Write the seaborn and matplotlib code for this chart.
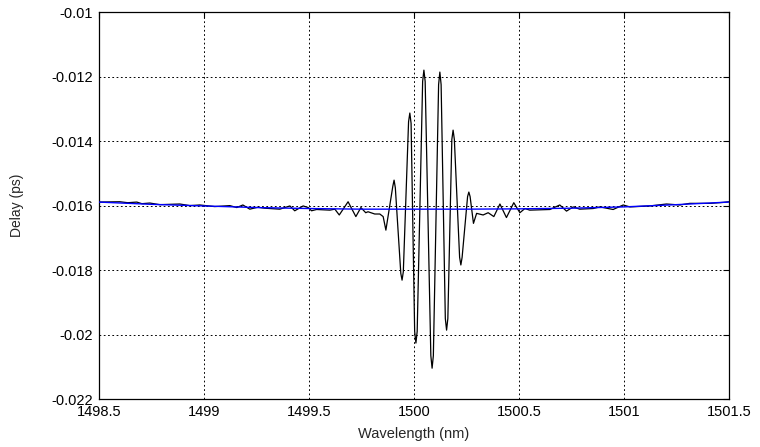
import matplotlib
matplotlib.use('Agg')
import matplotlib.pyplot as plt
import seaborn as sns
import pandas as pd

wl_meas = [1498.500, 1498.600, 1498.638, 1498.681, 1498.705, 1498.743, 1498.790,
           1498.886, 1498.933, 1498.981, 1499.052, 1499.124, 1499.157, 1499.186,
           1499.219, 1499.257, 1499.290, 1499.362, 1499.410, 1499.433, 1499.473,
           1499.497, 1499.513, 1499.537, 1499.600, 1499.624, 1499.645, 1499.687,
           1499.724, 1499.748, 1499.771, 1499.782, 1499.814, 1499.838, 1499.854,
           1499.867,
           1499.900, 1499.906, 1499.912, 1499.938, 1499.944, 1499.950,
           1499.975, 1499.981, 1499.987, 1500.004, 1500.010, 1500.016,
           1500.042, 1500.048, 1500.054, 1500.081, 1500.087, 1500.093,
           1500.118, 1500.124, 1500.130, 1500.150, 1500.156, 1500.162,
           1500.181, 1500.187, 1500.193, 1500.218, 1500.224, 1500.230,
           1500.256, 1500.262, 1500.268,
           1500.284, 1500.299,
           1500.330, 1500.354, 1500.381, 1500.410, 1500.441, 1500.476, 1500.505,
           1500.529, 1500.552, 1500.648, 1500.695, 1500.727, 1500.759, 1500.790,
           1500.854, 1500.886, 1500.949, 1500.997, 1501.029, 1501.124, 1501.203,
           1501.267, 1501.314, 1501.410, 1501.473, 1501.500]
delay_meas = [-0.01589, -0.01588, -0.01591, -0.01589, -0.01594, -0.01592, -0.01597,
              -0.01595, -0.01600, -0.01598, -0.01603, -0.01600, -0.01606, -0.01598,
              -0.01611, -0.01605, -0.01608, -0.01611, -0.01601, -0.01616, -0.01601,
              -0.01606, -0.01616, -0.01612, -0.01614, -0.01611, -0.01629, -0.01588,
              -0.01634, -0.01606, -0.01622, -0.01619, -0.01626, -0.01626, -0.01634,
              -0.01676,
              -0.01540, -0.01521, -0.01545, -0.01810, -0.01831, -0.01805,
              -0.01340, -0.01313, -0.01345, -0.01990, -0.02026, -0.01990,
              -0.01215, -0.01180, -0.01215, -0.02065, -0.02104, -0.02065,
              -0.01225, -0.01186, -0.01225, -0.01950, -0.01986, -0.01950,
              -0.01395, -0.01366, -0.01395, -0.01760, -0.01784, -0.01760,
              -0.01572, -0.01558, -0.01572,
              -0.01655, -0.01624,
              -0.01629, -0.01622, -0.01634, -0.01595, -0.01637, -0.01591, -0.01622,
              -0.01609, -0.01614, -0.01612, -0.01598, -0.01617, -0.01604, -0.01611,
              -0.01609, -0.01604, -0.01612, -0.01598, -0.01604, -0.01601, -0.01595,
              -0.01598, -0.01593, -0.01593, -0.01590, -0.01588]

# smooth background delay (blue)
wl_fit = [1498.5, 1498.75, 1499.0, 1499.25, 1499.5, 1499.75, 1500.0,
          1500.25, 1500.5, 1500.75, 1501.0, 1501.25, 1501.5]
delay_fit = [-0.01589, -0.01596, -0.01601, -0.01606, -0.01609, -0.01611, -0.01611,
             -0.01611, -0.01610, -0.01608, -0.01604, -0.01597, -0.01589]

x_ticks = [1498.5, 1499, 1499.5, 1500, 1500.5, 1501, 1501.5]
x_labels = ['1498.5', '1499', '1499.5', '1500', '1500.5', '1501', '1501.5']
y_ticks = [-0.022, -0.02, -0.018, -0.016, -0.014, -0.012, -0.01]
y_labels = ['-0.022', '-0.02', '-0.018', '-0.016', '-0.014', '-0.012', '-0.01']

meas = pd.DataFrame({'wl': wl_meas, 'delay': delay_meas})
fit = pd.DataFrame({'wl': wl_fit, 'delay': delay_fit})

sns.set_style('white')
plt.rcParams['font.family'] = ['Liberation Sans', 'DejaVu Sans']

fig = plt.figure(figsize=(7.6, 4.47), dpi=100)
ax = fig.add_axes([0.130, 0.107, 0.829, 0.866])

sns.lineplot(data=meas, x='wl', y='delay', ax=ax, color='black', linewidth=0.9,
             estimator=None, sort=False, zorder=2)
sns.lineplot(data=fit, x='wl', y='delay', ax=ax, color='#0000ff', linewidth=1.0,
             estimator=None, sort=False, zorder=3)

ax.set_xlim(1498.5, 1501.5)
ax.set_ylim(-0.022, -0.01)
ax.set_xticks(x_ticks)
ax.set_xticklabels(x_labels)
ax.set_yticks(y_ticks)
ax.set_yticklabels(y_labels)
ax.grid(True, color='black', linestyle=(0, (1.8, 2.6)), linewidth=0.7)
ax.set_axisbelow(True)
ax.tick_params(direction='in', length=4, width=0.8, labelsize=10.5, colors='black',
               top=True, right=True, pad=4)
for side in ax.spines.values():
    side.set_color('black')
    side.set_linewidth(0.9)

ax.set_xlabel('Wavelength (nm)', fontsize=10.5, labelpad=6)
ax.set_ylabel('Delay (ps)', fontsize=10, labelpad=20)

fig.savefig('out.png', dpi=100)
